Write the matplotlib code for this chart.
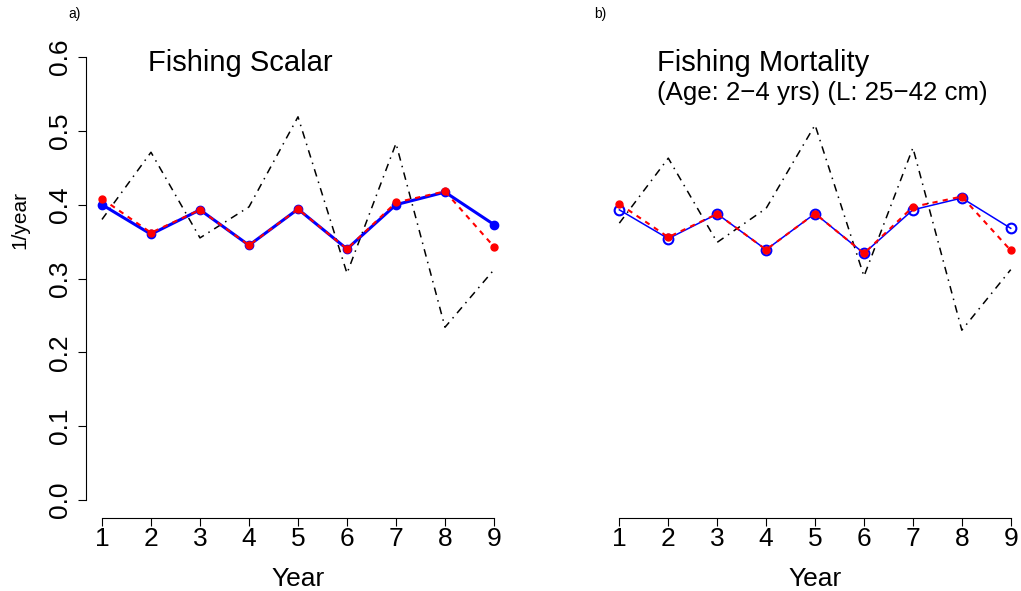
import matplotlib
matplotlib.use("Agg")
import matplotlib.pyplot as plt

plt.rcParams['font.family'] = ['Liberation Sans', 'DejaVu Sans']

years = [1, 2, 3, 4, 5, 6, 7, 8, 9]

# panel a) fishing scalar
scalar_blue = [0.400, 0.360, 0.393, 0.345, 0.394, 0.340, 0.400, 0.417, 0.373]
scalar_red = [0.408, 0.362, 0.393, 0.345, 0.394, 0.340, 0.403, 0.418, 0.343]
scalar_black = [0.380, 0.471, 0.355, 0.397, 0.519, 0.307, 0.483, 0.234, 0.312]

# panel b) fishing mortality
mort_blue = [0.393, 0.354, 0.3875, 0.339, 0.388, 0.334, 0.393, 0.409, 0.368]
mort_red = [0.401, 0.356, 0.3875, 0.339, 0.388, 0.334, 0.397, 0.411, 0.338]
mort_black = [0.375, 0.463, 0.349, 0.395, 0.508, 0.303, 0.477, 0.230, 0.312]

y_ticks = [0.0, 0.1, 0.2, 0.3, 0.4, 0.5, 0.6]

W, H = 1021, 591


def box(x0, x1, ytop, ybot):
    # pixel box -> figure fraction
    return [x0 / W, 1 - ybot / H, (x1 - x0) / W, (ybot - ytop) / H]


def r_style(ax, show_y):
    ax.set_xlim(0.68, 9.32)
    ax.set_ylim(-0.024, 0.624)
    ax.spines['top'].set_visible(False)
    ax.spines['right'].set_visible(False)
    ax.spines['bottom'].set_bounds(1, 9)
    ax.set_xticks(years)
    ax.set_xticklabels([str(y) for y in years])
    ax.tick_params(axis='x', direction='out', length=6, width=0.8, pad=1, labelsize=19)
    if show_y:
        ax.spines['left'].set_bounds(0, 0.6)
        ax.set_yticks(y_ticks)
        ax.set_yticklabels([f"{v:.1f}" for v in y_ticks], rotation=90, va='center')
        ax.tick_params(axis='y', direction='out', length=6, width=0.8, pad=4, labelsize=19)
    else:
        ax.spines['left'].set_visible(False)
        ax.set_yticks([])
    ax.set_xlabel("Year", fontsize=19, labelpad=11)


fig = plt.figure(figsize=(W / 100, H / 100), dpi=100)

ax1 = fig.add_axes(box(86.3, 509.7, 39.3, 517.7))
ax1.plot(years, scalar_black, color='black', lw=1.1, linestyle=(0, (5, 3.5, 1, 3.5)))
ax1.plot(years, scalar_blue, color='blue', lw=2.2, marker='o', ms=6)
ax1.plot(years, scalar_red, color='red', lw=1.5, linestyle=(0, (2.5, 2.5)), marker='o', ms=5)
r_style(ax1, True)

ax2 = fig.add_axes(box(603.7, 1026.4, 39.3, 517.7))
ax2.plot(years, mort_black, color='black', lw=1.1, linestyle=(0, (5, 3.5, 1, 3.5)))
ax2.plot(years, mort_blue, color='blue', lw=1.1, marker='o', ms=7, mfc='none', mew=1.5)
ax2.plot(years, mort_red, color='red', lw=1.5, linestyle=(0, (2.5, 2.5)), marker='o', ms=5)
r_style(ax2, False)

fig.text(20 / W, 1 - 220 / H, "1/year", rotation=90, fontsize=15, ha='center', va='center')
fig.text(148 / W, 1 - 71 / H, "Fishing Scalar", fontsize=21, va='baseline')
fig.text(657 / W, 1 - 71 / H, "Fishing Mortality", fontsize=21, va='baseline')
fig.text(657 / W, 1 - 100 / H, "(Age: 2\u22124 yrs) (L: 25\u221242 cm)", fontsize=18.6, va='baseline')
fig.text(68 / W, 1 - 18 / H, "a)", fontsize=10, va='baseline')
fig.text(594 / W, 1 - 18 / H, "b)", fontsize=10, va='baseline')

fig.savefig("out.png", dpi=100)
